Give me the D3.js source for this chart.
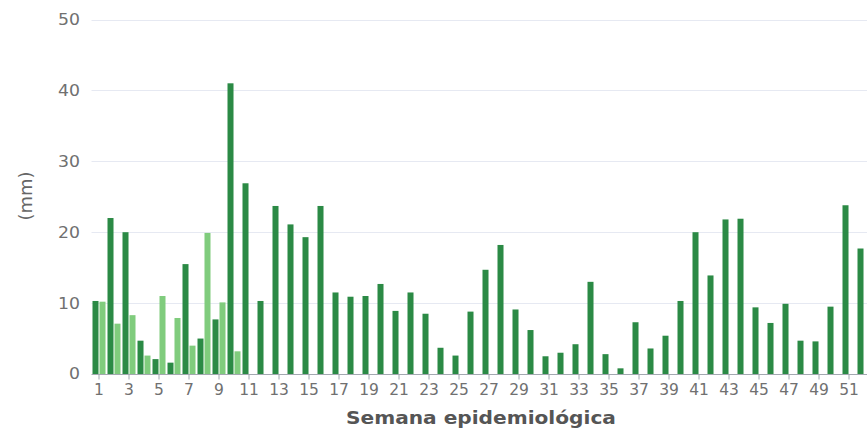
<!DOCTYPE html>
<html>
<head>
<meta charset="utf-8">
<script src="https://cdn.jsdelivr.net/npm/d3@7/dist/d3.min.js"></script>
<style>
  html, body { margin: 0; padding: 0; background: #fff; }
  svg { display: block; }
  text { font-family: "DejaVu Sans", sans-serif; }
</style>
</head>
<body>
<svg id="chart" width="867" height="429"></svg>
<script>
// Semanas epidemiológicas
const semanas = d3.range(1, 53);

// Precipitación semanal (mm), serie completa
const precipAnterior = [
  10.3, 22.0, 20.0, 4.7, 2.1, 1.6, 15.5, 5.0, 7.7, 41.0,
  26.9, 10.3, 23.7, 21.1, 19.3, 23.7, 11.5, 10.9, 11.0, 12.7,
  8.9, 11.5, 8.5, 3.7, 2.6, 8.8, 14.7, 18.2, 9.1, 6.2,
  2.5, 3.0, 4.2, 13.0, 2.8, 0.8, 7.3, 3.6, 5.4, 10.3,
  20.0, 13.9, 21.8, 21.9, 9.4, 7.2, 9.9, 4.7, 4.6, 9.5,
  23.8, 17.7
];

// Precipitación semanal (mm), serie en curso
const precipActual = [
  10.2, 7.1, 8.3, 2.6, 11.0, 7.9, 4.0, 19.9, 10.1, 3.2
];

const yTicks = [0, 10, 20, 30, 40, 50];
const xTickLabels = semanas.filter(s => s % 2 === 1);

const series = [
  { key: "anterior", values: precipAnterior, color: "#2b8a45" },
  { key: "actual", values: precipActual, color: "#80cc7d" }
];

// widen a text element's glyphs horizontally by a factor
function widen(sel, k) {
  sel.each(function () {
    const len = this.getComputedTextLength();
    d3.select(this)
      .attr("textLength", len * k)
      .attr("lengthAdjust", "spacingAndGlyphs");
  });
}

const svg = d3.select("#chart");
const plot = { left: 91.5, top: 19.5, bottom: 374 };

const x = d3.scaleBand()
  .domain(semanas)
  .range([plot.left, plot.left + semanas.length * 15])
  .padding(0);

const xs = d3.scaleBand()
  .domain(series.map(s => s.key))
  .range([1, x.bandwidth() - 1])
  .paddingInner(0.14);

const y = d3.scaleLinear().domain([0, 50]).range([plot.bottom, plot.top]);

// grid
svg.append("g")
  .selectAll("line")
  .data(yTicks.filter(t => t > 0))
  .join("line")
  .attr("x1", plot.left)
  .attr("x2", 867)
  .attr("y1", d => Math.round(y(d)) + 0.5)
  .attr("y2", d => Math.round(y(d)) + 0.5)
  .attr("stroke", "#e6e9f2")
  .attr("stroke-width", 1);

// y labels
svg.append("g")
  .selectAll("text")
  .data(yTicks)
  .join("text")
  .attr("x", 80)
  .attr("y", d => y(d))
  .attr("dy", "0.36em")
  .attr("text-anchor", "end")
  .attr("fill", "#707070")
  .attr("font-size", 15)
  .text(d => d)
  .call(widen, 1.15);

// bars
const rows = semanas.map((s, i) => ({
  semana: s,
  vals: series.map(se => ({ key: se.key, color: se.color, v: se.values[i] }))
    .filter(d => d.v != null)
}));

svg.append("g")
  .selectAll("g")
  .data(rows)
  .join("g")
  .attr("transform", d => `translate(${x(d.semana)},0)`)
  .selectAll("rect")
  .data(d => d.vals)
  .join("rect")
  .attr("x", d => xs(d.key))
  .attr("width", xs.bandwidth())
  .attr("y", d => y(d.v))
  .attr("height", d => y(0) - y(d.v))
  .attr("fill", d => d.color);

// x axis
const xAxis = d3.axisBottom(x)
  .tickValues(xTickLabels)
  .tickSize(5)
  .tickSizeOuter(0)
  .tickPadding(4);

const gx = svg.append("g")
  .attr("transform", `translate(0,${plot.bottom + 0.5})`)
  .call(xAxis);
gx.select(".domain").attr("stroke", "#a3a8b0").attr("d", `M${plot.left},0H867`);
gx.selectAll(".tick line").attr("stroke", "#a3a8b0");
gx.selectAll(".tick text")
  .attr("fill", "#707070")
  .attr("font-size", 15.5)
  .attr("font-family", "DejaVu Sans, sans-serif");

// axis titles
svg.append("text")
  .attr("transform", "translate(32,196) rotate(-90)")
  .attr("text-anchor", "middle")
  .attr("fill", "#666")
  .attr("font-size", 18)
  .text("(mm)");

svg.append("text")
  .attr("x", 481)
  .attr("y", 424)
  .attr("text-anchor", "middle")
  .attr("fill", "#555")
  .attr("font-size", 17.5)
  .attr("font-weight", "bold")
  .text("Semana epidemiológica")
  .call(widen, 1.15);
</script>
</body>
</html>
